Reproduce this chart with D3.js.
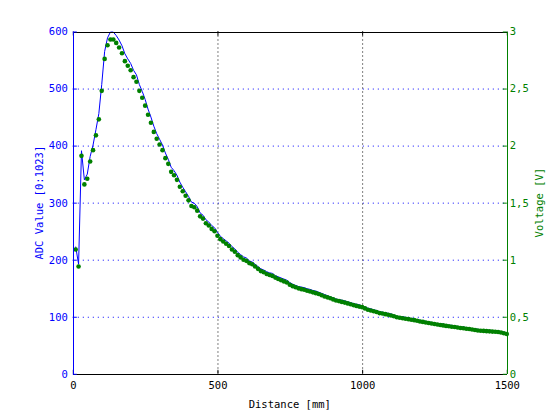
<!DOCTYPE html>
<html>
<head>
<meta charset="utf-8">
<script src="https://cdn.jsdelivr.net/npm/d3@7"></script>
<style>
  body { margin: 0; background: #fff; }
  text { font-family: "DejaVu Sans Mono", monospace; font-size: 10.5px; }
</style>
</head>
<body>
<svg></svg>
<script>
let width = 560;
let height = 420;
let padLeft = 72.8, padRight = 506.8, padTop = 31.5, padBottom = 373.8;

// distance in mm (one sample every 10 mm)
let distance = [10,20,30,40,50,60,70,80,90,100,110,120,130,140,150,160,170,180,190,200,
  210,220,230,240,250,260,270,280,290,300,310,320,330,340,350,360,370,380,390,400,
  410,420,430,440,450,460,470,480,490,500,510,520,530,540,550,560,570,580,590,600,
  610,620,630,640,650,660,670,680,690,700,710,720,730,740,750,760,770,780,790,800,
  810,820,830,840,850,860,870,880,890,900,910,920,930,940,950,960,970,980,990,1000,
  1010,1020,1030,1040,1050,1060,1070,1080,1090,1100,1110,1120,1130,1140,1150,1160,1170,1180,1190,1200,
  1210,1220,1230,1240,1250,1260,1270,1280,1290,1300,1310,1320,1330,1340,1350,1360,1370,1380,1390,1400,
  1410,1420,1430,1440,1450,1460,1470,1480,1490,1500];

// raw ADC reading
let adcValue = [223,192,391,340,350,381,401,428,456,507,565,589,599,599,593,585,575,561,552,544,
  532,524,507,495,481,464,450,434,421,411,401,387,376,362,356,348,336,327,319,311,
  301,299,293,282,278,270,266,260,256,248,241,237,233,229,223,219,213,209,205,203,
  198,196,192,188,184,182,179,177,176,172,170,168,166,164,160,157,155,153,152,151,
  149,148,146,145,143,141,139,137,135,133,131,130,129,128,126,125,123,122,121,119,
  117,115,114,112,111,109,108,107,106,105,103,101,100,100,99,98,97,96,95,94,
  93,92,91,90,89,88,88,87,86,85,85,84,83,82,82,81,80,79,79,78,
  77,77,77,76,76,75,75,74,73,71];

// measured voltage
let voltage = [1.09,0.94,1.91,1.66,1.71,1.86,1.96,2.09,2.23,2.48,2.76,2.88,2.93,2.93,2.90,2.86,2.81,2.74,2.70,2.66,
  2.60,2.56,2.48,2.42,2.35,2.27,2.20,2.12,2.06,2.01,1.96,1.89,1.84,1.77,1.74,1.70,1.64,1.60,1.56,1.52,
  1.47,1.46,1.43,1.38,1.36,1.32,1.30,1.27,1.25,1.21,1.18,1.16,1.14,1.12,1.09,1.07,1.04,1.02,1.00,0.99,
  0.97,0.96,0.94,0.92,0.90,0.89,0.875,0.866,0.858,0.843,0.831,0.820,0.810,0.800,0.781,0.768,0.758,0.749,0.742,0.736,
  0.728,0.721,0.714,0.707,0.699,0.689,0.678,0.670,0.662,0.652,0.642,0.637,0.630,0.624,0.617,0.610,0.602,0.595,0.589,0.584,
  0.573,0.561,0.555,0.548,0.542,0.532,0.529,0.523,0.518,0.511,0.504,0.496,0.491,0.487,0.483,0.479,0.474,0.470,0.465,0.459,
  0.455,0.449,0.445,0.441,0.436,0.432,0.428,0.424,0.420,0.417,0.413,0.410,0.406,0.402,0.399,0.395,0.392,0.388,0.384,0.380,
  0.377,0.376,0.374,0.372,0.370,0.369,0.366,0.362,0.356,0.349];

let xTicks = [0, 500, 1000, 1500];
let adcTicks = [0, 100, 200, 300, 400, 500, 600];
let voltTicks = [0, 0.5, 1, 1.5, 2, 2.5, 3];

let blue = '#0000ff', green = '#008000';

let svg = d3.select('svg').attr('width', width).attr('height', height);

let xScale = d3.scaleLinear().domain([0, 1500]).range([padLeft, padRight]);
let yScale = d3.scaleLinear().domain([0, 600]).range([padBottom, padTop]);
let vScale = d3.scaleLinear().domain([0, 3]).range([padBottom, padTop]);

//grid lines
svg.append('g').selectAll('line').data(adcTicks.slice(1, -1)).join('line')
  .attr('x1', padLeft).attr('x2', padRight)
  .attr('y1', d => yScale(d) + 0.5).attr('y2', d => yScale(d) + 0.5)
  .attr('stroke', blue).attr('stroke-dasharray', '1,4');
svg.append('g').selectAll('line').data(xTicks.slice(1, -1)).join('line')
  .attr('x1', d => xScale(d) + 0.5).attr('x2', d => xScale(d) + 0.5)
  .attr('y1', padTop).attr('y2', padBottom)
  .attr('stroke', '#000').attr('stroke-dasharray', '1,3');

//data
let pts = distance.map((d, i) => ({ x: d, adc: adcValue[i], v: voltage[i] }));

svg.append('path').datum(pts)
  .attr('d', d3.line().x(d => xScale(d.x)).y(d => yScale(d.adc)))
  .attr('fill', 'none').attr('stroke', blue).attr('stroke-width', 1);

svg.append('g').selectAll('circle').data(pts).join('circle')
  .attr('cx', d => xScale(d.x)).attr('cy', d => vScale(d.v))
  .attr('r', 2.3).attr('fill', green);

//axes
let comma = d => String(d).replace('.', ',');

let xAxis = svg.append('g').attr('transform', 'translate(0,' + padBottom + ')')
  .call(d3.axisBottom(xScale).tickValues(xTicks).tickFormat(d3.format('d'))
    .tickSizeInner(-4).tickSizeOuter(0).tickPadding(8));
xAxis.selectAll('line, path').attr('stroke', '#000');
xAxis.selectAll('text').attr('fill', '#000').style('font-size', '10.5px');

let xTop = svg.append('g').attr('transform', 'translate(0,' + padTop + ')')
  .call(d3.axisTop(xScale).tickValues(xTicks).tickSizeInner(-4).tickSizeOuter(0).tickFormat(''));
xTop.selectAll('line, path').attr('stroke', '#000');

let yAxis = svg.append('g').attr('transform', 'translate(' + padLeft + ',0)')
  .call(d3.axisLeft(yScale).tickValues(adcTicks).tickSizeInner(-4).tickSizeOuter(0).tickPadding(5));
yAxis.selectAll('line, path').attr('stroke', blue);
yAxis.selectAll('text').attr('fill', blue).style('font-size', '10.5px');

let vAxis = svg.append('g').attr('transform', 'translate(' + padRight + ',0)')
  .call(d3.axisRight(vScale).tickValues(voltTicks).tickFormat(comma).tickSizeInner(-4).tickSizeOuter(0).tickPadding(3));
vAxis.selectAll('line, path').attr('stroke', green);
vAxis.selectAll('text').attr('fill', green).style('font-size', '10.5px');

svg.selectAll('.domain').attr('shape-rendering', 'crispEdges');

//labels
svg.append('text').attr('x', (padLeft + padRight) / 2).attr('y', 408)
  .attr('text-anchor', 'middle').attr('fill', '#000').text('Distance [mm]');
svg.append('text').attr('transform', 'translate(39,' + (padTop + padBottom) / 2 + ') rotate(-90)')
  .attr('text-anchor', 'middle').attr('dy', '0.35em').attr('fill', blue).text('ADC Value [0:1023]');
svg.append('text').attr('transform', 'translate(539,' + (padTop + padBottom) / 2 + ') rotate(-90)')
  .attr('text-anchor', 'middle').attr('dy', '0.35em').attr('fill', green).text('Voltage [V]');
</script>
</body>
</html>
